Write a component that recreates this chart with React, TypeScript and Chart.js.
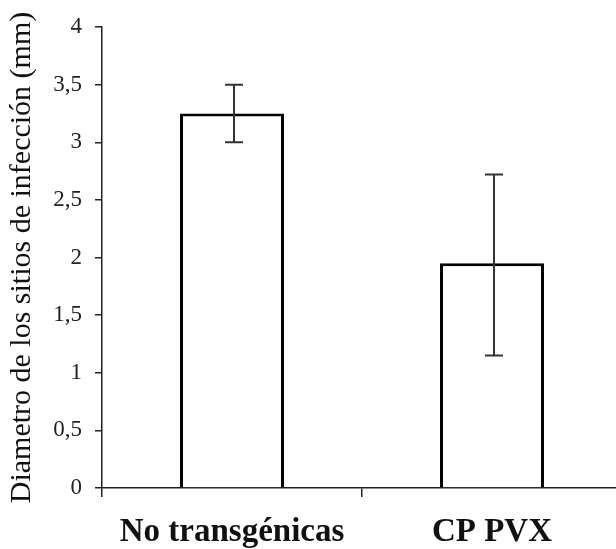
import React, { useEffect, useRef } from "react";
import { Chart, registerables } from "chart.js";

Chart.register(...registerables);

const categories = ["No transgénicas", "CP PVX"];
const means = [3.25, 1.95];
const errLow = [3.0, 1.15];
const errHigh = [3.5, 2.72];
const yTicks = [0, 0.5, 1, 1.5, 2, 2.5, 3, 3.5, 4];
const yTitle = "Diametro de los sitios de infección (mm)";

const errorBarPlugin = {
  id: "errorBars",
  afterDatasetsDraw(chart: any) {
    const ctx = chart.ctx;
    const meta = chart.getDatasetMeta(0);
    const y = chart.scales.y;
    ctx.save();
    ctx.strokeStyle = "#333";
    ctx.lineWidth = 2;
    meta.data.forEach((bar: any, i: number) => {
      const x = bar.x + 2;
      const yl = y.getPixelForValue(errLow[i]);
      const yh = y.getPixelForValue(errHigh[i]);
      ctx.beginPath();
      ctx.moveTo(x, yl);
      ctx.lineTo(x, yh);
      ctx.moveTo(x - 9, yl);
      ctx.lineTo(x + 9, yl);
      ctx.moveTo(x - 9, yh);
      ctx.lineTo(x + 9, yh);
      ctx.stroke();
    });
    ctx.restore();
  },
};

export default function App() {
  const ref = useRef<HTMLCanvasElement>(null);
  useEffect(() => {
    if (!ref.current) return;
    const chart = new Chart(ref.current, {
      type: "bar",
      data: {
        labels: categories,
        datasets: [
          {
            data: means,
            backgroundColor: "#ffffff",
            borderColor: "#000000",
            borderWidth: 3,
            barPercentage: 0.4,
            categoryPercentage: 1,
          },
        ],
      },
      options: {
        animation: false,
        responsive: true,
        maintainAspectRatio: false,
        layout: { padding: { top: 27, right: 2, left: 0, bottom: 0 } },
        plugins: { legend: { display: false }, tooltip: { enabled: false } },
        scales: {
          x: {
            afterFit: (s: any) => {
              s.height = 61;
            },
            grid: {
              drawOnChartArea: false,
              drawTicks: true,
              tickLength: 9,
              color: "#222",
              lineWidth: 1.5,
            },
            border: { display: true, color: "#222", width: 1.5 },
            ticks: {
              color: "#111",
              padding: 16,
              font: { family: "'Liberation Serif', 'Times New Roman', serif", size: 33, weight: "bold" },
            },
          },
          y: {
            min: 0,
            max: 4,
            afterFit: (s: any) => {
              s.width = 102;
            },
            afterBuildTicks: (s: any) => {
              s.ticks = yTicks.map((v) => ({ value: v }));
            },
            grid: {
              drawOnChartArea: false,
              drawTicks: true,
              tickLength: 7,
              color: "#222",
              lineWidth: 1.5,
            },
            border: { display: true, color: "#222", width: 1.5 },
            ticks: {
              color: "#222",
              padding: 13,
              callback: (v: any) => String(v).replace(".", ","),
              font: { family: "'Liberation Serif', 'Times New Roman', serif", size: 23 },
            },
            title: {
              display: true,
              text: yTitle,
              color: "#111",
              padding: { top: 4, bottom: 0 },
              font: { family: "'Liberation Serif', 'Times New Roman', serif", size: 30 },
            },
          },
        },
      },
      plugins: [errorBarPlugin],
    });
    return () => chart.destroy();
  }, []);

  return (
    <div style={{ position: "fixed", left: 0, top: 0, width: 616, height: 549, overflow: "hidden", background: "#fff" }}>
      <div style={{ position: "relative", width: 624, height: 549 }}>
        <canvas ref={ref} />
      </div>
    </div>
  );
}
